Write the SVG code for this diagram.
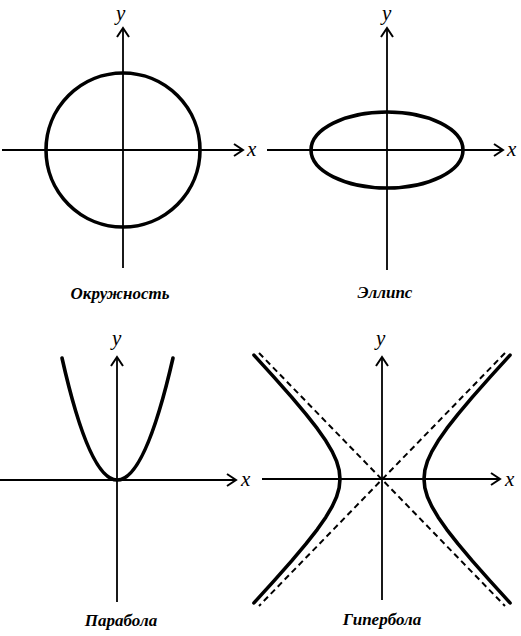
<svg xmlns="http://www.w3.org/2000/svg" width="521" height="636" viewBox="0 0 521 636">
<style>
.axis{fill:none;stroke:#000;stroke-width:1.8;marker-end:url(#arr)}
.curve{fill:none;stroke:#000;stroke-width:3.6;stroke-linejoin:round;stroke-linecap:round}
.asym{fill:none;stroke:#000;stroke-width:2;stroke-dasharray:6 4}
.lbl{font-family:"Liberation Serif","DejaVu Serif",serif;font-style:italic;font-size:21px;fill:#000}
.cap{font-family:"Liberation Serif","DejaVu Serif",serif;font-style:italic;font-weight:bold;font-size:17px;fill:#000;text-anchor:middle}
</style>
<defs>
<marker id="arr" viewBox="-11 -8 13 16" markerWidth="13" markerHeight="16" refX="0" refY="0" markerUnits="userSpaceOnUse" orient="auto">
<path d="M-9,-6 L0,0 L-9,6" fill="none" stroke="#000" stroke-width="2"/>
</marker>
</defs>
<rect width="521" height="636" fill="#fff"/>
<g id="circle">
<circle class="curve" cx="123" cy="150" r="77"/>
<text class="lbl" x="247" y="156">x</text>
<text class="lbl" x="116" y="20">y</text>
<text class="cap" x="120" y="299">Окружность</text>
</g>
<g id="ellipse">
<ellipse class="curve" cx="387" cy="150" rx="76" ry="38"/>
<text class="lbl" x="507" y="156">x</text>
<text class="lbl" x="382" y="20">y</text>
<text class="cap" x="385" y="298">Эллипс</text>
</g>
<g id="parabola">
<path class="curve" d="M62,358 Q117,602 173,358"/>
<text class="lbl" x="241" y="486">x</text>
<text class="lbl" x="112" y="345">y</text>
<text class="cap" x="121" y="626">Парабола</text>
</g>
<g id="hyperbola">
<line class="asym" x1="259" y1="353" x2="505" y2="606"/>
<line class="asym" x1="505" y1="353" x2="259" y2="606"/>
<polyline class="curve" points="510.06,355.12 490.26,376.85 472.34,397.12 458.05,414.09 446.81,428.47 438.17,440.81 431.79,451.62 427.41,461.34 424.84,470.34 424,479 424.84,487.66 427.41,496.66 431.79,506.38 438.17,517.19 446.81,529.53 458.05,543.91 472.34,560.88 490.26,581.15 510.06,602.88"/>
<polyline class="curve" points="253.94,355.12 273.74,376.85 291.66,397.12 305.95,414.09 317.19,428.47 325.83,440.81 332.21,451.62 336.59,461.34 339.16,470.34 340,479 339.16,487.66 336.59,496.66 332.21,506.38 325.83,517.19 317.19,529.53 305.95,543.91 291.66,560.88 273.74,581.15 253.94,602.88"/>
<text class="lbl" x="505" y="486">x</text>
<text class="lbl" x="376" y="345">y</text>
<text class="cap" x="382" y="625">Гипербола</text>
</g>
<g id="connectors">
<line class="axis" x1="2" y1="150" x2="243" y2="150"/>
<line class="axis" x1="123" y1="268" x2="123" y2="28"/>
<line class="axis" x1="267" y1="150" x2="503" y2="150"/>
<line class="axis" x1="387" y1="270" x2="387" y2="28"/>
<line class="axis" x1="0" y1="480" x2="236" y2="480"/>
<line class="axis" x1="117" y1="602" x2="117" y2="357"/>
<line class="axis" x1="262" y1="479" x2="500" y2="479"/>
<line class="axis" x1="382" y1="600" x2="382" y2="357"/>
</g>
</svg>
